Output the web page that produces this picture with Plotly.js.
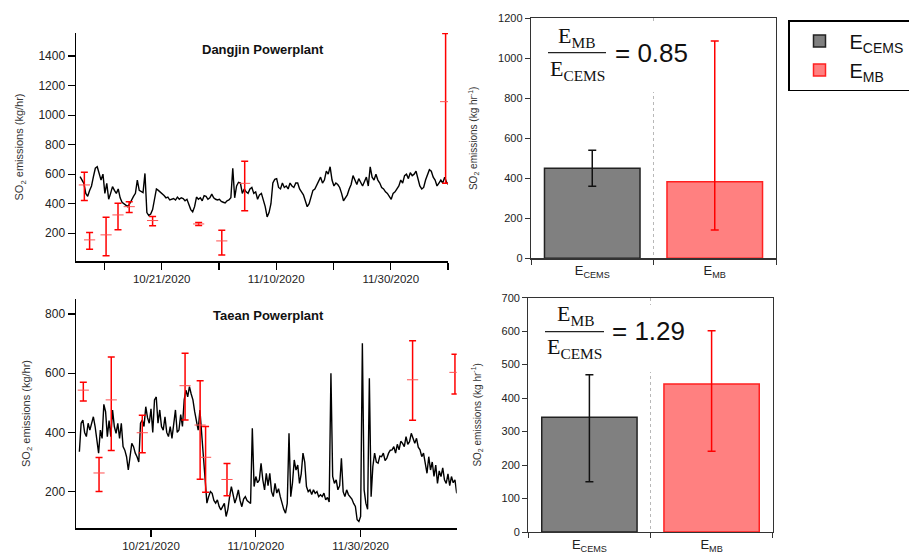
<!DOCTYPE html>
<html>
<head>
<meta charset="utf-8">
<script src="https://cdn.plot.ly/plotly-3.0.1.min.js"></script>
<style>html,body{margin:0;padding:0;background:#fff;}#chart{width:909px;height:553px;}</style>
</head>
<body>
<div id="chart"></div>
<script>
// ---------- Data ----------
// Dangjin CEMS series (8 h step)
const djStart = '2020-10-06 18:00';
const djValues = [
583,560,538, 470,450,490, 520,583,640, 650,600,560, 600,470,538, 430,470,516, 490,470,500,
440,410,400, 390,380,400, 430,450,470, 560,490,480, 475,605,340, 320,330,360, 440,500,490,
480,470,455, 440,445,425, 430,435,425, 445,430,440, 435,420,430, 390,360,345, 380,445,430,
440,420,455, 450,430,440, 465,440,430, 425,430,415, 410,405,420, 425,440,640, 440,520,545,
540,470,500, 480,470,500, 510,470,480, 430,460,470, 430,380,310, 340,400,540, 565,570,510,
500,540,510, 520,500,540, 520,510,540, 540,500,480, 460,420,380, 400,440,490, 500,530,560,
580,540,560, 620,600,650, 560,520,540, 530,510,470, 420,440,460, 500,530,590, 560,530,570,
540,520,550, 580,520,650, 580,560,600, 560,540,510, 500,480,470, 450,430,470, 480,500,520,
560,540,590, 600,570,610, 590,600,620, 560,520,500, 510,560,600, 630,620,580, 560,520,540,
560,540,580, 545,530
];
// Dangjin mass-balance estimates
const djMbDates = ['2020-10-07 12:00','2020-10-08 10:00','2020-10-11 07:00','2020-10-13 09:00','2020-10-15 08:00',
  '2020-10-19 10:00','2020-10-27 11:00','2020-10-31 12:00','2020-11-04 12:00','2020-12-09 14:00'];
const djMbValue = [527,155,189,324,380,286,263,148,538,1091];
const djMbHigh  = [613,205,308,403,414,313,272,220,687,1553];
const djMbLow   = [421, 92, 47,223,340,250,252, 53,353, 538];

// Taean CEMS series (8 h step)
const taStart = '2020-10-07 08:00';
const taValues = [
335,431,442, 400,386,431, 408,430,453, 420,363,330, 408,380,495, 470,386,440, 386,476,420,
397,431,380, 431,352,340, 318,273,330, 363,352,330, 318,300,431, 442,420,487, 450,431,480,
400,510,520, 431,476,420, 408,453,400, 386,420,380, 420,476,400, 408,460,420, 510,543,520,
555,530,510, 470,431,408, 476,408,318, 240,161,183, 200,194,170, 161,172,150, 138,149,160,
116,140,183, 217,190,161, 180,206,170, 149,175,183, 170,166,160, 414,217,251, 230,239,296,
240,206,262, 220,262,200, 183,228,195, 210,183,160, 140,127,160, 397,183,230, 307,273,290,
228,260,330, 300,217,200, 206,190,206, 194,200,183, 189,183,195, 172,180,165, 600,251,228,
240,206,220, 313,200,183, 206,190,183, 175,160,150, 105,99,116, 701,206,161, 140,583,183,
285,330,300, 296,320,318, 330,305,313, 330,340,341, 352,330,360, 341,370,363, 352,386,360,
369,397,380, 363,380,350, 341,318,330, 300,262,318, 273,300,251, 290,228,270, 251,280,240,
228,260,220, 251,230,240, 194
];
const taMbDates = ['2020-10-08 02:00','2020-10-11 02:00','2020-10-13 10:00','2020-10-19 08:00','2020-10-27 12:00',
  '2020-10-30 09:00','2020-10-31 10:00','2020-11-04 12:00','2020-12-09 22:00','2020-12-18 00:00'];
const taMbValue = [543,263,510,399,558,425,316,241,578,603];
const taMbHigh  = [570,315,655,458,668,575,420,295,710,664];
const taMbLow   = [506,200,339,331,442,242,198,186,441,530];

// Bar summaries
const barCats = ['E<sub>CEMS</sub>','E<sub>MB</sub>'];
const djBar = [450, 383];
const djBarHigh = [540, 1086];
const djBarLow  = [360, 141];
const taBar = [343, 442];
const taBarHigh = [470, 601];
const taBarLow  = [150, 241];
const ratioDJ = '0.85';
const ratioTA = '1.29';

// Tick labels
const djTickVals = ['2020-10-11','2020-10-21','2020-10-31','2020-11-10','2020-11-20','2020-11-30','2020-12-10'];
const djTickText = ['','10/21/2020','','11/10/2020','','11/30/2020',''];
const taTickVals = ['2020-10-21','2020-11-10','2020-11-30'];
const taTickText = ['10/21/2020','11/10/2020','11/30/2020'];

// ---------- helpers ----------
const W = 909, H = 553;
const px = v => v / W;
const py = v => 1 - v / H;
const diff = (a, b) => a.map((v, i) => v - b[i]);
const EIGHT_H = 8 * 3600 * 1000;

const traces = [
  {type:'scatter', mode:'lines', x0: djStart, dx: EIGHT_H, y: djValues, xaxis:'x', yaxis:'y',
   line:{color:'#000', width:1.4}, showlegend:false},
  {type:'scatter', mode:'markers', x: djMbDates, y: djMbValue, xaxis:'x', yaxis:'y',
   marker:{symbol:'line-ew', size:8, color:'#ff5050', line:{color:'#ff5050', width:1}},
   error_y:{type:'data', symmetric:false, array: diff(djMbHigh, djMbValue), arrayminus: diff(djMbValue, djMbLow),
     color:'#ff0000', thickness:1.5, width:3.5}, showlegend:false},
  {type:'scatter', mode:'lines', x0: taStart, dx: EIGHT_H, y: taValues, xaxis:'x2', yaxis:'y2',
   line:{color:'#000', width:1.4}, showlegend:false},
  {type:'scatter', mode:'markers', x: taMbDates, y: taMbValue, xaxis:'x2', yaxis:'y2',
   marker:{symbol:'line-ew', size:8, color:'#ff5050', line:{color:'#ff5050', width:1}},
   error_y:{type:'data', symmetric:false, array: diff(taMbHigh, taMbValue), arrayminus: diff(taMbValue, taMbLow),
     color:'#ff0000', thickness:1.5, width:3.5}, showlegend:false},
  // top bars
  {type:'bar', name: barCats[0], x:[barCats[0]], y:[djBar[0]], xaxis:'x3', yaxis:'y3', width:0.78,
   marker:{color:'#808080', line:{color:'#222', width:1.5}},
   error_y:{type:'data', symmetric:false, array:[djBarHigh[0]-djBar[0]], arrayminus:[djBar[0]-djBarLow[0]], color:'#111', thickness:1.5, width:4}},
  {type:'bar', name: barCats[1], x:[barCats[1]], y:[djBar[1]], xaxis:'x3', yaxis:'y3', width:0.78,
   marker:{color:'#ff8080', line:{color:'#ff2020', width:1.5}},
   error_y:{type:'data', symmetric:false, array:[djBarHigh[1]-djBar[1]], arrayminus:[djBar[1]-djBarLow[1]], color:'#ff0000', thickness:1.5, width:4}},
  // bottom bars
  {type:'bar', name: barCats[0], x:[barCats[0]], y:[taBar[0]], xaxis:'x4', yaxis:'y4', width:0.78, showlegend:false,
   marker:{color:'#808080', line:{color:'#222', width:1.5}},
   error_y:{type:'data', symmetric:false, array:[taBarHigh[0]-taBar[0]], arrayminus:[taBar[0]-taBarLow[0]], color:'#111', thickness:1.5, width:4}},
  {type:'bar', name: barCats[1], x:[barCats[1]], y:[taBar[1]], xaxis:'x4', yaxis:'y4', width:0.78, showlegend:false,
   marker:{color:'#ff8080', line:{color:'#ff2020', width:1.5}},
   error_y:{type:'data', symmetric:false, array:[taBarHigh[1]-taBar[1]], arrayminus:[taBar[1]-taBarLow[1]], color:'#ff0000', thickness:1.5, width:4}}
];

const baseLine = {showline:true, linecolor:'#000', linewidth:1.5, ticks:'outside', tickcolor:'#000', tickwidth:1.2,
  showgrid:false, zeroline:false, tickfont:{size:12, color:'#222'}};
const barAxis = {showline:true, linecolor:'#333', linewidth:1.2, mirror:true, ticks:'outside', tickcolor:'#333',
  ticklen:5, zeroline:false, tickfont:{size:11, color:'#222'}};

const ann = (x, y, text, font, extra) => Object.assign({xref:'paper', yref:'paper', x:px(x), y:py(y), text:text,
  showarrow:false, xanchor:'center', yanchor:'middle', font:font}, extra || {});
const serif = {family:'Liberation Serif, serif', size:22, color:'#111'};

const layout = {
  width: W, height: H,
  margin:{l:0, r:0, t:0, b:0, autoexpand:false},
  paper_bgcolor:'#fff', plot_bgcolor:'#fff',
  font:{family:'Liberation Sans, Arial, sans-serif', color:'#222'},
  barmode:'overlay',
  xaxis: Object.assign({}, baseLine, {anchor:'y', domain:[px(76), px(448)], type:'date',
    range:['2020-10-06 01:00','2020-12-10 00:00'], tickmode:'array', tickvals: djTickVals, ticktext: djTickText, ticklen:7,
    tickfont:{size:11.5, color:'#222'}}),
  yaxis: Object.assign({}, baseLine, {anchor:'x', domain:[py(261), py(33)], range:[12,1556],
    tickvals:[200,400,600,800,1000,1200,1400], ticklen:7,
    title:{text:'SO<sub>2</sub> emissions (kg/hr)', font:{size:11, color:'#333'}, standoff:12}}),
  xaxis2: Object.assign({}, baseLine, {anchor:'y2', domain:[px(76), px(456.7)], type:'date',
    range:['2020-10-06 16:30','2020-12-18 08:00'], tickmode:'array', tickvals: taTickVals, ticktext: taTickText, ticklen:7,
    tickfont:{size:11.5, color:'#222'}}),
  yaxis2: Object.assign({}, baseLine, {anchor:'x2', domain:[py(528), py(299)], range:[77,851],
    tickvals:[200,400,600,800], ticklen:7,
    title:{text:'SO<sub>2</sub> emissions (kg/hr)', font:{size:11, color:'#333'}, standoff:12}}),
  xaxis3: Object.assign({}, barAxis, {anchor:'y3', domain:[px(531), px(776)], type:'category', range:[-0.5,1.5],
    tickson:'boundaries', showgrid:true, gridcolor:'#b8b8b8', griddash:'dot', gridwidth:1, tickfont:{size:13, color:'#222'}}),
  yaxis3: Object.assign({}, barAxis, {anchor:'x3', domain:[py(258.3), py(18.3)], range:[0,1200], dtick:200, showgrid:false,
    title:{text:'SO<sub>2</sub> emissions (kg hr<sup>-1</sup>)', font:{size:10, color:'#333'}, standoff:18}}),
  xaxis4: Object.assign({}, barAxis, {anchor:'y4', domain:[px(528.3), px(772.7)], type:'category', range:[-0.5,1.5],
    tickson:'boundaries', showgrid:true, gridcolor:'#b8b8b8', griddash:'dot', gridwidth:1, tickfont:{size:13, color:'#222'}}),
  yaxis4: Object.assign({}, barAxis, {anchor:'x4', domain:[py(532), py(297.7)], range:[0,700], dtick:100, showgrid:false,
    title:{text:'SO<sub>2</sub> emissions (kg hr<sup>-1</sup>)', font:{size:10, color:'#333'}, standoff:18}}),
  showlegend:true,
  legend:{x:px(788), y:py(20), xanchor:'left', yanchor:'top', bordercolor:'#000', borderwidth:1.5, bgcolor:'#fff',
    font:{size:20, color:'#111'}, itemwidth:50, tracegroupgap:0},
  shapes:[
    {type:'rect', xref:'paper', yref:'paper', x0:px(543), x1:px(693), y0:py(92), y1:py(23), fillcolor:'#fff', line:{width:0}, layer:'above'},
    {type:'rect', xref:'paper', yref:'paper', x0:px(540), x1:px(693), y0:py(372), y1:py(305), fillcolor:'#fff', line:{width:0}, layer:'above'},
    {type:'line', xref:'paper', yref:'paper', x0:px(548), x1:px(606), y0:py(52.7), y1:py(52.7), line:{color:'#222', width:1.3}, layer:'above'},
    {type:'line', xref:'paper', yref:'paper', x0:px(545), x1:px(604), y0:py(331.7), y1:py(331.7), line:{color:'#222', width:1.3}, layer:'above'}
  ],
  annotations:[
    ann(263, 49, '<b>Dangjin Powerplant</b>', {size:13, color:'#111'}),
    ann(268, 315, '<b>Taean Powerplant</b>', {size:13, color:'#111'}),
    ann(576, 37, 'E<sub>MB</sub>', serif),
    ann(577, 70, 'E<sub>CEMS</sub>', serif),
    ann(613, 52.5, '= ' + ratioDJ, {size:26, color:'#111'}, {xanchor:'left'}),
    ann(575, 315, 'E<sub>MB</sub>', serif),
    ann(574, 348, 'E<sub>CEMS</sub>', serif),
    ann(610, 331, '= ' + ratioTA, {size:26, color:'#111'}, {xanchor:'left'})
  ]
};

Plotly.newPlot('chart', traces, layout, {displayModeBar:false, staticPlot:true});
</script>
</body>
</html>
